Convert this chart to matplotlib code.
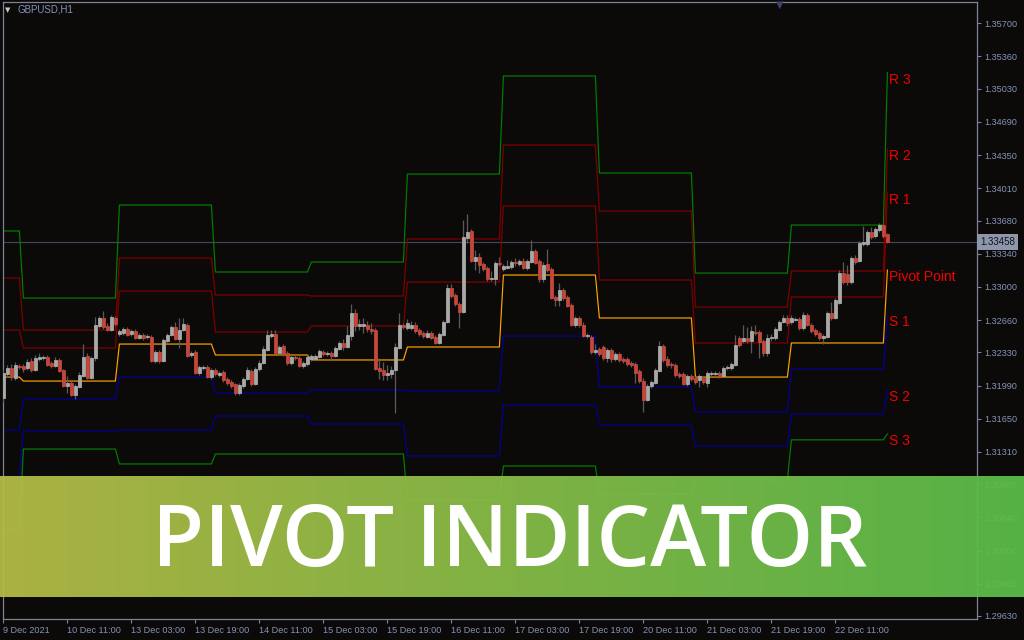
import numpy as np
import matplotlib.pyplot as plt
from matplotlib import transforms
from matplotlib.colors import LinearSegmentedColormap

plt.rcParams['font.family'] = ['Liberation Sans', 'DejaVu Sans']

# GBPUSD H1 candles, 9 Dec 2021 19:00 .. 23 Dec 00:00
opens = [
    1.31862, 1.32108, 1.32170, 1.32067, 1.32190, 1.32190, 1.32170, 1.32241, 1.32149, 1.32262,
    1.32272, 1.32282, 1.32221, 1.32190, 1.32252, 1.32149, 1.31985, 1.32016, 1.31893, 1.31975,
    1.32088, 1.32292, 1.32067, 1.32272, 1.32600, 1.32682, 1.32600, 1.32559, 1.32682, 1.32518,
    1.32528, 1.32569, 1.32518, 1.32548, 1.32477, 1.32508, 1.32487, 1.32487, 1.32241, 1.32333,
    1.32241, 1.32446, 1.32508, 1.32589, 1.32467, 1.32559, 1.32610, 1.32303, 1.32333, 1.32118,
    1.32170, 1.32180, 1.32077, 1.32149, 1.32098, 1.32129, 1.32057, 1.32026, 1.32006, 1.31914,
    1.31985, 1.32057, 1.32139, 1.32006, 1.32159, 1.32221, 1.32354, 1.32497, 1.32518, 1.32323,
    1.32395, 1.32323, 1.32221, 1.32282, 1.32272, 1.32190, 1.32211, 1.32262, 1.32262, 1.32282,
    1.32333, 1.32313, 1.32323, 1.32292, 1.32364, 1.32426, 1.32385, 1.32497, 1.32733, 1.32600,
    1.32600, 1.32610, 1.32569, 1.32559, 1.32170, 1.32149, 1.32098, 1.32108, 1.32149, 1.32374,
    1.32610, 1.32579, 1.32579, 1.32610, 1.32559, 1.32528, 1.32487, 1.32528, 1.32487, 1.32426,
    1.32508, 1.32641, 1.32989, 1.32917, 1.32825, 1.32743, 1.33501, 1.33573, 1.33265, 1.33306,
    1.33235, 1.33194, 1.33081, 1.33081, 1.33245, 1.33183, 1.33194, 1.33204, 1.33255, 1.33235,
    1.33265, 1.33194, 1.33255, 1.33368, 1.33265, 1.33081, 1.33235, 1.33183, 1.32897, 1.32866,
    1.32968, 1.32897, 1.32815, 1.32610, 1.32682, 1.32610, 1.32497, 1.32487, 1.32333, 1.32364,
    1.32385, 1.32272, 1.32354, 1.32262, 1.32313, 1.32262, 1.32262, 1.32221, 1.32211, 1.32139,
    1.32036, 1.31842, 1.31985, 1.32016, 1.32139, 1.32395, 1.32262, 1.32211, 1.32200, 1.32108,
    1.32108, 1.32006, 1.32088, 1.32067, 1.32047, 1.32067, 1.32016, 1.32108, 1.32108, 1.32118,
    1.32088, 1.32170, 1.32170, 1.32200, 1.32477, 1.32446, 1.32477, 1.32446, 1.32538, 1.32538,
    1.32446, 1.32323, 1.32477, 1.32477, 1.32559, 1.32641, 1.32682, 1.32641, 1.32661, 1.32671,
    1.32579, 1.32712, 1.32610, 1.32559, 1.32528, 1.32477, 1.32487, 1.32733, 1.32682, 1.32835,
    1.33142, 1.33132, 1.33050, 1.33296, 1.33265, 1.33439, 1.33439, 1.33562, 1.33521, 1.33583,
    1.33634, 1.33542,
]
highs = [
    1.32149, 1.32200, 1.32211, 1.32231, 1.32211, 1.32211, 1.32262, 1.32272, 1.32303, 1.32323,
    1.32303, 1.32303, 1.32241, 1.32282, 1.32272, 1.32159, 1.32088, 1.32036, 1.32006, 1.32129,
    1.32415, 1.32323, 1.32292, 1.32692, 1.32702, 1.32753, 1.32630, 1.32712, 1.32702, 1.32569,
    1.32589, 1.32589, 1.32569, 1.32569, 1.32528, 1.32528, 1.32518, 1.32508, 1.32354, 1.32354,
    1.32477, 1.32528, 1.32610, 1.32641, 1.32682, 1.32682, 1.32630, 1.32344, 1.32354, 1.32200,
    1.32200, 1.32200, 1.32170, 1.32170, 1.32139, 1.32149, 1.32077, 1.32047, 1.32016, 1.32016,
    1.32077, 1.32180, 1.32159, 1.32180, 1.32252, 1.32395, 1.32559, 1.32559, 1.32559, 1.32405,
    1.32415, 1.32344, 1.32303, 1.32303, 1.32292, 1.32241, 1.32303, 1.32313, 1.32313, 1.32364,
    1.32354, 1.32344, 1.32344, 1.32395, 1.32446, 1.32467, 1.32600, 1.32825, 1.32774, 1.32671,
    1.32682, 1.32651, 1.32630, 1.32579, 1.32272, 1.32231, 1.32200, 1.32190, 1.32426, 1.32733,
    1.32630, 1.32671, 1.32651, 1.32641, 1.32579, 1.32548, 1.32559, 1.32548, 1.32508, 1.32538,
    1.32661, 1.33030, 1.33030, 1.32938, 1.32846, 1.33685, 1.33747, 1.33593, 1.33378, 1.33347,
    1.33255, 1.33214, 1.33163, 1.33265, 1.33306, 1.33235, 1.33276, 1.33276, 1.33296, 1.33286,
    1.33296, 1.33286, 1.33480, 1.33388, 1.33286, 1.33255, 1.33388, 1.33204, 1.32917, 1.33040,
    1.32989, 1.32917, 1.32835, 1.32702, 1.32702, 1.32641, 1.32528, 1.32508, 1.32415, 1.32385,
    1.32405, 1.32374, 1.32374, 1.32333, 1.32333, 1.32282, 1.32282, 1.32241, 1.32231, 1.32159,
    1.32067, 1.32006, 1.32047, 1.32170, 1.32446, 1.32415, 1.32292, 1.32231, 1.32221, 1.32129,
    1.32129, 1.32108, 1.32108, 1.32088, 1.32108, 1.32088, 1.32139, 1.32139, 1.32139, 1.32139,
    1.32190, 1.32200, 1.32231, 1.32508, 1.32497, 1.32610, 1.32589, 1.32600, 1.32610, 1.32559,
    1.32467, 1.32518, 1.32518, 1.32589, 1.32661, 1.32712, 1.32712, 1.32712, 1.32692, 1.32692,
    1.32743, 1.32733, 1.32630, 1.32579, 1.32548, 1.32518, 1.32753, 1.32846, 1.32886, 1.33173,
    1.33255, 1.33224, 1.33316, 1.33327, 1.33470, 1.33624, 1.33583, 1.33613, 1.33613, 1.33654,
    1.33644, 1.33552,
]
lows = [
    1.31821, 1.32077, 1.32047, 1.32047, 1.32159, 1.32129, 1.32149, 1.32129, 1.32139, 1.32241,
    1.32252, 1.32190, 1.32170, 1.32180, 1.32129, 1.31975, 1.31914, 1.31883, 1.31852, 1.31965,
    1.32077, 1.32057, 1.32057, 1.32241, 1.32579, 1.32569, 1.32548, 1.32548, 1.32600, 1.32497,
    1.32508, 1.32497, 1.32497, 1.32467, 1.32467, 1.32456, 1.32467, 1.32231, 1.32221, 1.32221,
    1.32231, 1.32426, 1.32497, 1.32456, 1.32374, 1.32548, 1.32282, 1.32282, 1.32108, 1.32098,
    1.32149, 1.32067, 1.32057, 1.32088, 1.32077, 1.32026, 1.31996, 1.31965, 1.31893, 1.31893,
    1.31965, 1.32047, 1.31985, 1.31996, 1.32139, 1.32211, 1.32344, 1.32477, 1.32313, 1.32303,
    1.32292, 1.32200, 1.32200, 1.32252, 1.32180, 1.32170, 1.32190, 1.32241, 1.32252, 1.32272,
    1.32292, 1.32292, 1.32252, 1.32282, 1.32354, 1.32354, 1.32374, 1.32456, 1.32548, 1.32559,
    1.32528, 1.32538, 1.32518, 1.32149, 1.32057, 1.32047, 1.32047, 1.32067, 1.31709, 1.32364,
    1.32569, 1.32559, 1.32559, 1.32528, 1.32497, 1.32477, 1.32477, 1.32467, 1.32415, 1.32415,
    1.32497, 1.32630, 1.32886, 1.32805, 1.32579, 1.32733, 1.33450, 1.33255, 1.33173, 1.33142,
    1.33163, 1.33060, 1.33060, 1.33020, 1.33214, 1.33163, 1.33183, 1.33183, 1.33214, 1.33214,
    1.33183, 1.33173, 1.33245, 1.33235, 1.33050, 1.33050, 1.33153, 1.32876, 1.32805, 1.32805,
    1.32866, 1.32794, 1.32600, 1.32589, 1.32589, 1.32487, 1.32477, 1.32313, 1.32313, 1.32292,
    1.32252, 1.32231, 1.32231, 1.32241, 1.32231, 1.32221, 1.32190, 1.32180, 1.32016, 1.32016,
    1.31719, 1.31832, 1.31965, 1.32006, 1.32129, 1.32231, 1.32180, 1.32170, 1.32077, 1.32067,
    1.31996, 1.31985, 1.32036, 1.32006, 1.31975, 1.32006, 1.31975, 1.32088, 1.32088, 1.32067,
    1.32077, 1.32149, 1.32149, 1.32190, 1.32385, 1.32426, 1.32426, 1.32323, 1.32508, 1.32272,
    1.32292, 1.32292, 1.32446, 1.32456, 1.32548, 1.32630, 1.32600, 1.32620, 1.32651, 1.32559,
    1.32559, 1.32600, 1.32528, 1.32497, 1.32456, 1.32415, 1.32477, 1.32661, 1.32671, 1.32825,
    1.33030, 1.33020, 1.33030, 1.33235, 1.33255, 1.33419, 1.33419, 1.33491, 1.33501, 1.33562,
    1.33501, 1.33450,
]
closes = [
    1.32118, 1.32170, 1.32077, 1.32200, 1.32180, 1.32159, 1.32231, 1.32149, 1.32272, 1.32282,
    1.32282, 1.32200, 1.32190, 1.32252, 1.32139, 1.31985, 1.32016, 1.31893, 1.31985, 1.32098,
    1.32282, 1.32067, 1.32272, 1.32610, 1.32682, 1.32589, 1.32559, 1.32692, 1.32620, 1.32548,
    1.32569, 1.32508, 1.32548, 1.32477, 1.32508, 1.32477, 1.32497, 1.32241, 1.32333, 1.32241,
    1.32456, 1.32508, 1.32589, 1.32467, 1.32559, 1.32620, 1.32292, 1.32323, 1.32118, 1.32180,
    1.32180, 1.32077, 1.32149, 1.32108, 1.32118, 1.32047, 1.32016, 1.31985, 1.31914, 1.31996,
    1.32057, 1.32149, 1.32006, 1.32159, 1.32221, 1.32364, 1.32508, 1.32518, 1.32323, 1.32385,
    1.32313, 1.32221, 1.32282, 1.32272, 1.32190, 1.32221, 1.32282, 1.32292, 1.32292, 1.32344,
    1.32313, 1.32323, 1.32292, 1.32374, 1.32426, 1.32385, 1.32508, 1.32733, 1.32600, 1.32620,
    1.32620, 1.32569, 1.32548, 1.32159, 1.32139, 1.32098, 1.32118, 1.32149, 1.32385, 1.32610,
    1.32589, 1.32630, 1.32610, 1.32548, 1.32518, 1.32497, 1.32528, 1.32477, 1.32426, 1.32518,
    1.32641, 1.32989, 1.32907, 1.32825, 1.32743, 1.33511, 1.33562, 1.33265, 1.33306, 1.33224,
    1.33183, 1.33081, 1.33091, 1.33245, 1.33235, 1.33214, 1.33214, 1.33255, 1.33245, 1.33265,
    1.33194, 1.33265, 1.33368, 1.33245, 1.33081, 1.33224, 1.33173, 1.32886, 1.32866, 1.32968,
    1.32886, 1.32805, 1.32610, 1.32682, 1.32610, 1.32497, 1.32508, 1.32333, 1.32354, 1.32313,
    1.32272, 1.32354, 1.32262, 1.32313, 1.32252, 1.32241, 1.32211, 1.32200, 1.32118, 1.32036,
    1.31842, 1.31985, 1.32026, 1.32149, 1.32395, 1.32252, 1.32200, 1.32200, 1.32098, 1.32088,
    1.32006, 1.32088, 1.32057, 1.32026, 1.32088, 1.32026, 1.32118, 1.32118, 1.32118, 1.32088,
    1.32170, 1.32180, 1.32211, 1.32405, 1.32405, 1.32477, 1.32446, 1.32548, 1.32528, 1.32436,
    1.32323, 1.32477, 1.32487, 1.32569, 1.32641, 1.32682, 1.32630, 1.32682, 1.32671, 1.32579,
    1.32712, 1.32610, 1.32548, 1.32518, 1.32477, 1.32497, 1.32733, 1.32682, 1.32866, 1.33142,
    1.33050, 1.33050, 1.33296, 1.33255, 1.33450, 1.33460, 1.33562, 1.33511, 1.33593, 1.33634,
    1.33521, 1.33458,
]

# daily pivot levels
days = ['9 Dec', '10 Dec', '13 Dec', '14 Dec', '15 Dec', '16 Dec', '17 Dec',
        '20 Dec', '21 Dec', '22 Dec', '23 Dec']
bars_per_day = [5, 24, 24, 24, 24, 24, 24, 24, 24, 24, 1]
r3 = [1.33573, 1.32886, 1.33839, 1.33153, 1.33255, 1.34156, 1.35160, 1.34167, 1.33142, 1.33634, 1.35194]
r2 = [1.33091, 1.32559, 1.33296, 1.32917, 1.32907, 1.33491, 1.34453, 1.33777, 1.32794, 1.33163, 1.34412]
r1 = [1.32559, 1.32374, 1.32958, 1.32538, 1.32600, 1.33050, 1.33829, 1.33071, 1.32426, 1.32897, 1.33962]
pp = [1.32077, 1.32036, 1.32415, 1.32303, 1.32252, 1.32385, 1.33122, 1.32682, 1.32077, 1.32426, 1.33173]
s1 = [1.31535, 1.31852, 1.32077, 1.31914, 1.31944, 1.31934, 1.32497, 1.31975, 1.31719, 1.32159, 1.32712]
s2 = [1.31054, 1.31525, 1.31535, 1.31678, 1.31596, 1.31269, 1.31791, 1.31586, 1.31371, 1.31699, 1.31944]
s3 = [1.30511, 1.31340, 1.31187, 1.31289, 1.31289, 1.30818, 1.31166, 1.30879, 1.31023, 1.31434, 1.31494]
level_names = ['R 3', 'R 2', 'R 1', 'Pivot Point', 'S 1', 'S 2', 'S 3']

yticks = [1.35700, 1.35360, 1.35030, 1.34690, 1.34350, 1.34010, 1.33680, 1.33340, 1.33000,
          1.32660, 1.32330, 1.31990, 1.31650, 1.31310, 1.30980, 1.30640, 1.30300, 1.29960, 1.29630]
xtick_bars = [0, 16, 32, 48, 64, 80, 96, 112, 128, 144, 160, 176, 192, 208]
xtick_labels = ['9 Dec 2021', '10 Dec 11:00', '13 Dec 03:00', '13 Dec 19:00', '14 Dec 11:00',
                '15 Dec 03:00', '15 Dec 19:00', '16 Dec 11:00', '17 Dec 03:00', '17 Dec 19:00',
                '20 Dec 11:00', '21 Dec 03:00', '21 Dec 19:00', '22 Dec 11:00']

bg = '#0c0a08'
axis_col = '#7c8296'
text_col = '#8493b8'

fig = plt.figure(figsize=(10.24, 6.4), dpi=100, facecolor=bg)
ax = fig.add_axes([3 / 1024, 21 / 640, 974 / 1024, 617 / 640])
ax.set_facecolor(bg)
ax.set_xlim(-0.1, -0.1 + 974 / 4)
ax.set_ylim(1.295992, 1.359181)

idx = np.arange(len(closes))

# pivot lines
line_cols = ['#008000', '#800000', '#800000', '#ffa500', '#00009c', '#00009c', '#008000']
levels = [r3, r2, r1, pp, s1, s2, s3]
for vals, col in zip(levels, line_cols):
    ax.plot(idx, np.repeat(vals, bars_per_day), color=col, lw=0.85, zorder=2)

# current price line
ax.axhline(closes[-1], color='#45475a', lw=0.8, zorder=1)

# candles
o = np.array(opens)
c = np.array(closes)
up = c >= o
bottoms = np.minimum(o, c)
heights = np.maximum(np.abs(c - o), 0.00002)
ax.vlines(idx, lows, highs, color='#5a5a5a', lw=0.9, zorder=3)
ax.bar(idx[up], heights[up], bottom=bottoms[up], width=0.6, color='#a8a8a8',
       edgecolor='#a8a8a8', linewidth=0.6, zorder=4)
ax.bar(idx[~up], heights[~up], bottom=bottoms[~up], width=0.6, color='#c3473a',
       edgecolor='#c3473a', linewidth=0.6, zorder=4)

# level labels at the last bar
off = transforms.offset_copy(ax.transData, fig=fig, x=0, y=-11, units='dots')
for name, vals in zip(level_names, levels):
    ax.text(idx[-1] + 0.5, vals[-1], name, transform=off, color='#f00000', fontsize=10,
            va='baseline', ha='left', clip_on=False, zorder=6)

# axes styling
for s in ax.spines.values():
    s.set_color(axis_col)
    s.set_linewidth(0.9)
ax.yaxis.tick_right()
ax.set_yticks(yticks)
ax.set_yticklabels([f'{v:.5f}' for v in yticks])
ax.set_xticks(xtick_bars)
ax.set_xticklabels(xtick_labels, ha='left')
ax.tick_params(axis='both', direction='out', length=3, width=0.8, pad=2,
               labelsize=6.6, color=axis_col, labelcolor=text_col)

# current price box on the axis
trans = transforms.blended_transform_factory(ax.transAxes, ax.transData)
ax.text(1.0 + 3 / 974, closes[-1], f'{closes[-1]:.5f}', transform=trans, ha='left',
        va='center', fontsize=7, color='#0e1220', clip_on=False, zorder=10,
        bbox=dict(boxstyle='square,pad=0.3', fc='#8e96aa', ec='none'))

# header
fig.text(8 / 1024, 1 - 10 / 640, '\u25bc', color='#c8c8c8', fontsize=5,
         family='DejaVu Sans', ha='center', va='center')
fig.text(18 / 1024, 1 - 10 / 640, 'GBPUSD,H1', color=text_col, fontsize=7, va='center')
fig.text(780 / 1024, 1 - 5 / 640, '\u25bc', color='#3d4470', fontsize=7,
         family='DejaVu Sans', ha='center', va='center')

# banner
bax = fig.add_axes([0, 43 / 640, 1, 121 / 640])
grad = np.linspace(0, 1, 256).reshape(1, -1)
cmap = LinearSegmentedColormap.from_list('banner', ['#b6bd47', '#5bbd4b'])
bax.imshow(grad, aspect='auto', cmap=cmap, extent=[0, 1, 0, 1], alpha=0.94)
bax.set_xlim(0, 1)
bax.set_ylim(0, 1)
bax.axis('off')
bax.text(510 / 1024, 31 / 121, 'PIVOT INDICATOR', ha='center', va='baseline', color='white',
         fontsize=61, fontweight='semibold', family='Open Sans')

fig.savefig('out.png', dpi=100, facecolor=bg)
